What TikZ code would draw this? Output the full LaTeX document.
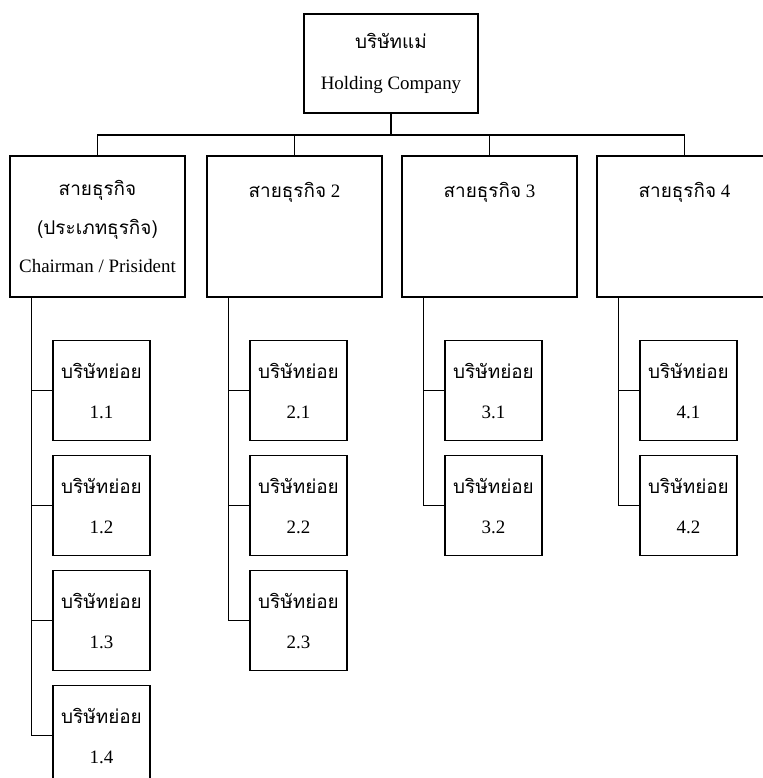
\documentclass[tikz,border=0pt]{standalone}
\usepackage{fontspec}
\setmainfont{Liberation Serif}
\newfontfamily\thaifont[Script=Thai]{Loma}

\tikzset{
  box/.style={draw, line width=1.3bp, inner sep=0pt, align=center},
  topbox/.style={box, minimum width=174bp, minimum height=99bp, font=\fontsize{19}{42}\selectfont},
  divbox/.style={box, minimum width=175bp, minimum height=141bp, font=\fontsize{19}{39}\selectfont},
  subbox/.style={box, minimum width=97bp, minimum height=100bp, font=\fontsize{19}{40}\selectfont},
  title/.style={inner sep=0pt, font=\fontsize{19}{19}\selectfont},
  wire/.style={line width=1.3bp}
}

\begin{document}
\begin{tikzpicture}[x=1bp, y=-1bp]
  \clip (0,0) rectangle (763,778); % page

  \node[topbox] (top) at (391,63.5) {{\thaifont บริษัทแม่}\\Holding Company};

  \node[divbox] (d1) at (97.5,226.5) {{\thaifont สายธุรกิจ}\\{\thaifont (ประเภทธุรกิจ)}\\Chairman / Prisident};
  \foreach \i/\x in {2/294.5, 3/489.5, 4/684.5} {
    \node[divbox] (d\i) at (\x,226.5) {};
    \node[title] (d\i-title) at (d\i.north |- 0,192) {{\thaifont สายธุรกิจ} \i};
  }

  \coordinate (bus) at (391,135);
  \draw[wire] (top.south) -- (bus);
  \draw[wire] (d1.north) |- (bus) -| (d4.north);
  \foreach \i in {2,3}
    \draw[wire] (d\i.north) -- (d\i.north |- bus);

  \foreach \i/\n in {1/4, 2/3, 3/2, 4/2} {
    \coordinate (t\i) at ([xshift=22bp]d\i.south west);
    \foreach \j in {1,...,\n}
      \node[subbox] (s\i-\j) at ([shift={(4,{93+115*(\j-1)})}]d\i.south)
        {{\thaifont บริษัทย่อย}\\\i.\j};
    \draw[wire] (t\i) |- (s\i-\n.west);
    \foreach \j in {1,...,\n}
      \draw[wire] (t\i |- s\i-\j.west) -- (s\i-\j.west);
  }
\end{tikzpicture}
\end{document}
